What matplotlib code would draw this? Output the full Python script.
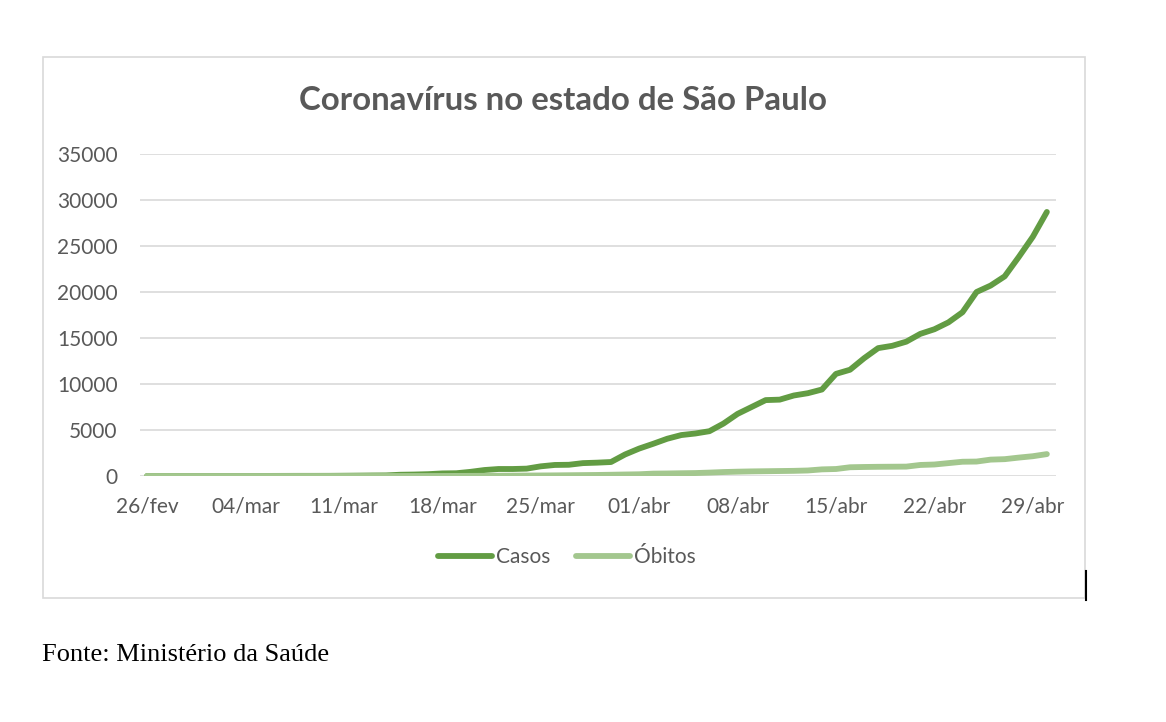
#Casos e obitos de coronavirus no estado de Sao Paulo.

#Importing packages to use required functions.
import numpy as np
import matplotlib
matplotlib.use("Agg")
import matplotlib.pyplot as plt
from matplotlib.patches import Rectangle
from matplotlib.lines import Line2D

#Font used for the chart texts.
matplotlib.rc('font', family=['Lato', 'DejaVu Sans'])

#Day labels shown on the x-axis (one every 7 days, starting 26/fev).
tick_labels = ["26/fev", "04/mar", "11/mar", "18/mar", "25/mar",
               "01/abr", "08/abr", "15/abr", "22/abr", "29/abr"]

#Accumulated cases, one value per day from 26/fev to 30/abr.
casos = [1, 1, 1, 2, 2, 2, 3, 3, 6, 10,
         13, 16, 16, 19, 30, 42, 56, 65, 136, 160,
         200, 280, 300, 450, 650, 760, 760, 800, 1050, 1200,
         1220, 1400, 1450, 1520, 2340, 2980, 3500, 4050, 4450, 4620,
         4870, 5700, 6750, 7500, 8250, 8300, 8750, 9000, 9400, 11100,
         11550, 12800, 13900, 14150, 14600, 15450, 15950, 16700, 17800, 20000,
         20700, 21700, 23800, 26000, 28700]

#Accumulated deaths, same days.
obitos = [0, 0, 0, 0, 0, 0, 0, 0, 0, 0,
          0, 0, 0, 0, 0, 0, 0, 0, 0, 0,
          1, 4, 9, 15, 22, 30, 40, 48, 58, 68,
          84, 98, 113, 136, 164, 188, 260, 275, 300, 320,
          370, 430, 470, 500, 520, 540, 560, 600, 720, 760,
          950, 980, 1000, 1010, 1020, 1200, 1250, 1400, 1550, 1570,
          1780, 1830, 2000, 2150, 2380]

dias = np.arange(len(casos))

#Colours.
cor_casos = "#629c43"
cor_obitos = "#a3c78e"
cor_texto = "#595959"
cor_grade = "#d9d9d9"

#Figure of 1166x722 pixels.
fig = plt.figure(figsize=(11.66, 7.22), dpi=100)
fig.patch.set_facecolor("white")
ax = fig.add_axes([140/1166, 1-476/722, (1056-140)/1166, (476-154)/722])

#Plotting both series.
ax.plot(dias, casos, color=cor_casos, linewidth=4.2, solid_capstyle="round", zorder=3)
ax.plot(dias, obitos, color=cor_obitos, linewidth=4.2, solid_capstyle="round", zorder=4)

#Axes limits and ticks.
ax.set_ylim(0, 35000)
ax.set_xlim(-0.5, 64.65)
ax.set_yticks(np.arange(0, 35001, 5000))
ax.set_xticks(dias[::7])
ax.set_xticklabels(tick_labels)
ax.tick_params(axis="both", length=0, labelsize=15, labelcolor=cor_texto)
ax.tick_params(axis="y", pad=16)
ax.tick_params(axis="x", pad=15)

#Setting grid properties.
ax.grid(axis="y", color=cor_grade, linewidth=1.2, zorder=0)
ax.set_axisbelow(True)
for s in ax.spines.values():
    s.set_visible(False)

#Giving a title to the graph.
fig.text(563/1166, 1-100/722, "Coronavírus no estado de São Paulo",
         ha="center", va="center", fontsize=23.8, fontweight="bold", color=cor_texto)

#Legend below the plot.
handles = [Line2D([0], [0], color=cor_casos, linewidth=4.2, solid_capstyle="round"),
           Line2D([0], [0], color=cor_obitos, linewidth=4.2, solid_capstyle="round")]
fig.legend(handles, ["Casos", "Óbitos"], loc="center",
           bbox_to_anchor=(567/1166, 1-557/722), ncol=2, frameon=False,
           fontsize=15, labelcolor=cor_texto, handlelength=2.6,
           handletextpad=0.2, columnspacing=1.2)

#Border around the chart area.
fig.patches.append(Rectangle((43/1166, 1-598/722), 1042/1166, 541/722,
                             transform=fig.transFigure, fill=False,
                             edgecolor=cor_grade, linewidth=1.2))
fig.lines.append(Line2D([1086/1166, 1086/1166], [1-571/722, 1-600/722],
                        transform=fig.transFigure, color="black", linewidth=1.5))

#Source note.
fig.text(42/1166, 1-655/722, "Fonte: Ministério da Saúde",
         ha="left", va="center", fontsize=19, family="Liberation Serif", color="black")

#Figure saved.
fig.savefig("out.png", dpi=100)
